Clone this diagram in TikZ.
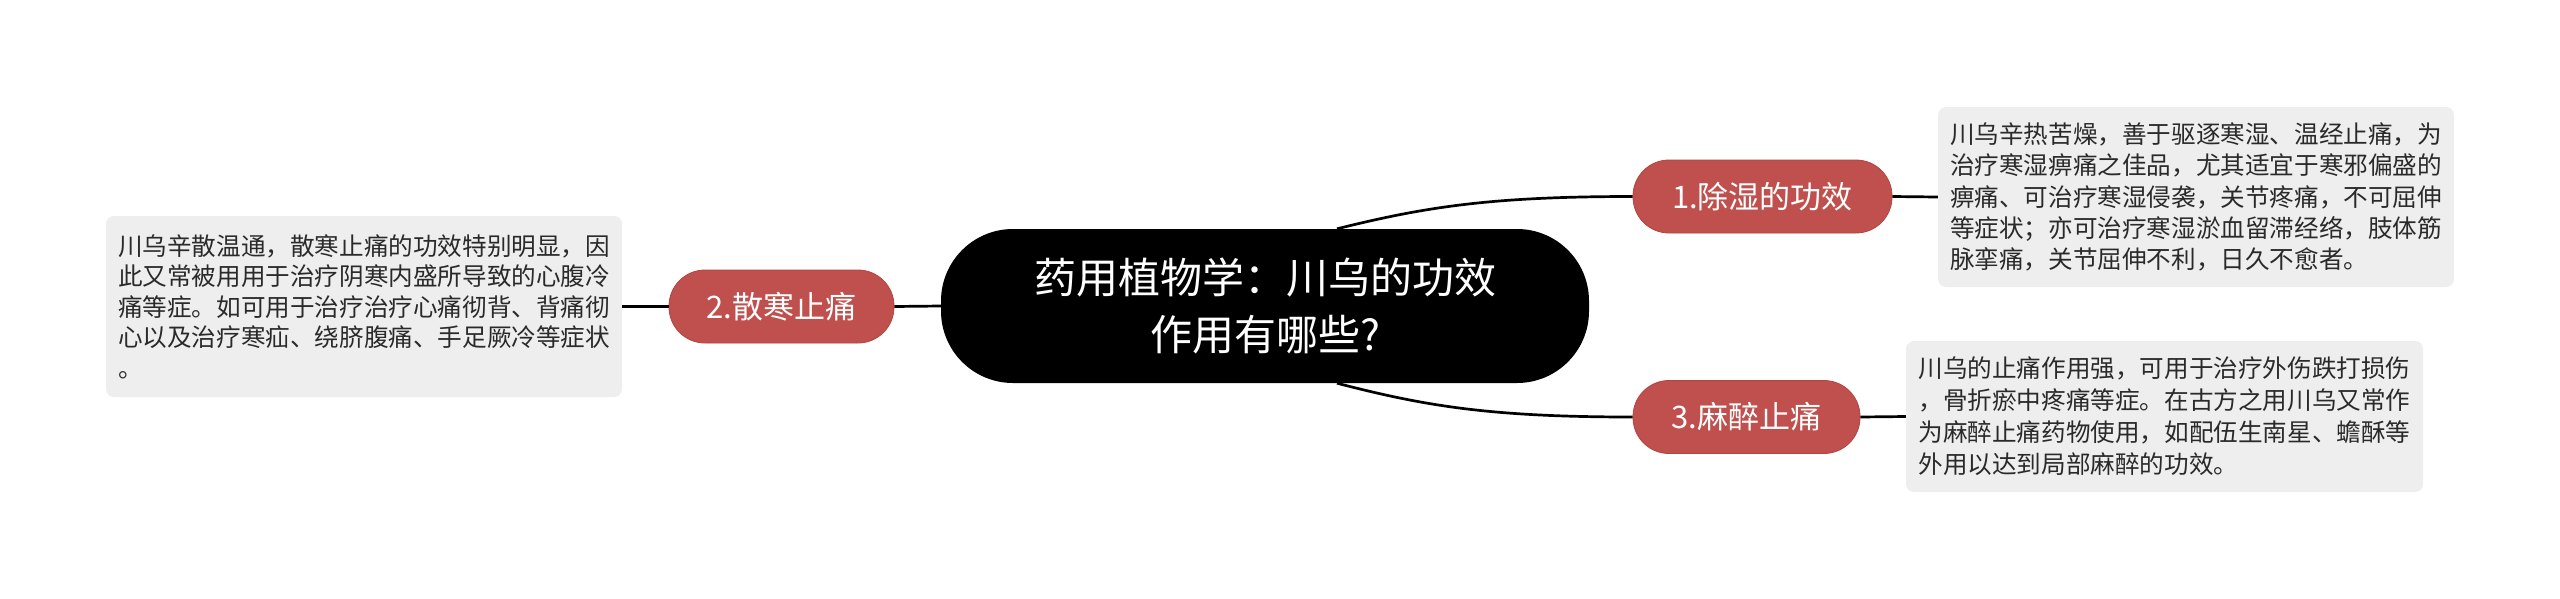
\documentclass[tikz,border=0pt]{standalone}
\usepackage{fontspec}
\setmainfont{Noto Sans CJK SC}
\definecolor{branchred}{HTML}{C0504D}
\definecolor{branchedge}{HTML}{B3443F}
\definecolor{leaffill}{HTML}{EEEEEE}
\definecolor{leaftext}{HTML}{2A2A2A}
\begin{document}
\begin{tikzpicture}[x=1pt,y=-1pt,
  centerbox/.style={fill=black,text=white,rounded corners=72pt,inner sep=0pt,
    minimum width=648pt,minimum height=154pt,align=center,
    font=\fontsize{42}{57}\selectfont},
  branchbox/.style={fill=branchred,draw=branchedge,line width=0.8pt,text=white,
    rounded corners=36pt,inner sep=0pt,minimum height=73pt,
    font=\fontsize{31}{36}\selectfont},
  leafbox/.style={fill=leaffill,text=leaftext,rounded corners=8pt,inner sep=0pt,
    align=left},
  link/.style={draw=black,line width=2.7pt}
]
\useasboundingbox (0,0) rectangle (2560,598);

\node[centerbox] (c) at (1265,306) {药用植物学：川乌的功效\\作用有哪些?};

\node[branchbox,minimum width=259pt] (n1) at (1762.5,196.5) {1.除湿的功效};
\node[branchbox,minimum width=225pt] (n2) at (781.5,306.5) {2.散寒止痛};
\node[branchbox,minimum width=227pt] (n3) at (1746.5,417) {3.麻醉止痛};

\node[leafbox,minimum width=516pt,minimum height=180pt,
  font=\fontsize{24.6}{31.3}\selectfont] (la) at (2196,197)
  {川乌辛热苦燥，善于驱逐寒湿、温经止痛，为\\
   治疗寒湿痹痛之佳品，尤其适宜于寒邪偏盛的\\
   痹痛、可治疗寒湿侵袭，关节疼痛，不可屈伸\\
   等症状；亦可治疗寒湿淤血留滞经络，肢体筋\\
   脉挛痛，关节屈伸不利，日久不愈者。};

\node[leafbox,minimum width=517pt,minimum height=151pt,
  font=\fontsize{24.6}{32}\selectfont] (lb) at (2164.5,416.5)
  {川乌的止痛作用强，可用于治疗外伤跌打损伤\\
   ，骨折瘀中疼痛等症。在古方之用川乌又常作\\
   为麻醉止痛药物使用，如配伍生南星、蟾酥等\\
   外用以达到局部麻醉的功效。};

\node[leafbox,minimum width=516pt,minimum height=181pt,
  font=\fontsize{24.6}{30.5}\selectfont] (lc) at (364,306.5)
  {川乌辛散温通，散寒止痛的功效特别明显，因\\
   此又常被用用于治疗阴寒内盛所导致的心腹冷\\
   痛等症。如可用于治疗治疗心痛彻背、背痛彻\\
   心以及治疗寒疝、绕脐腹痛、手足厥冷等症状\\
   。};

\draw[link] ([xshift=72pt]c.north) .. controls (1425,207) and (1490,196.5) .. (n1.west);
\draw[link] ([xshift=72pt]c.south) .. controls (1425,406) and (1490,417) .. (n3.west);
\draw[link] (c.west) -- (n2.east);
\draw[link] (n1.east) -- (la.west);
\draw[link] (n3.east) -- (lb.west);
\draw[link] (n2.west) -- (lc.east);
\end{tikzpicture}
\end{document}
